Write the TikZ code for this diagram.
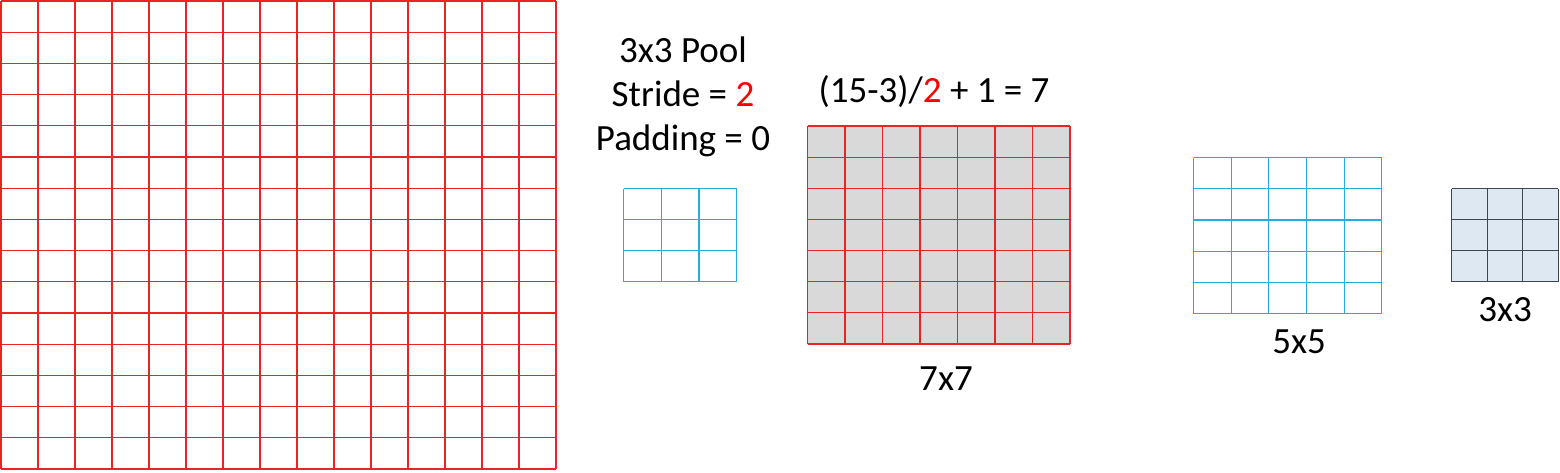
\documentclass[tikz,border=0pt]{standalone}
\usepackage{fontspec}
\setmainfont{Carlito}
\usepackage{xcolor}
\usetikzlibrary{positioning}
\definecolor{gridred}{RGB}{232,36,36}
\definecolor{poolblue}{RGB}{38,172,222}
\definecolor{cellgray}{RGB}{217,217,217}
\definecolor{outfill}{RGB}{221,232,243}
\definecolor{outedge}{RGB}{62,70,80}

% grid of cells: style, left, top, cols, rows, cell width, cell height
\newcommand{\cellgrid}[7]{%
  \foreach \i in {0,...,#4}
    \draw[#1] (#2+\i*#6,#3) -- (#2+\i*#6,#3+#5*#7);
  \foreach \j in {0,...,#5}
    \draw[#1] (#2,#3+\j*#7) -- (#2+#4*#6,#3+\j*#7);}

\begin{document}
\begin{tikzpicture}[
  x=1pt, y=-1pt,
  font=\fontsize{37}{44}\selectfont,
  lbl/.style={anchor=base, inner sep=0pt},
  redline/.style={draw=gridred, line width=1.2pt},
  blueline/.style={draw=poolblue, line width=1.2pt},
  darkline/.style={draw=outedge, line width=1.2pt}]

  \useasboundingbox (0,0) rectangle (1560,472);

  % input 15x15
  \cellgrid{redline}{1}{1}{15}{15}{37.0}{31.2}

  % pooling window
  \cellgrid{blueline}{623.5}{188.5}{3}{3}{37.7}{31.1}
  \node[lbl] (pool) at (683,62) {3x3 Pool};
  \node[lbl] (stride) at (683,106) {Stride = \textcolor{red}{2}};
  \node[lbl] (padding) at (683,150) {Padding = 0};

  % 7x7 output
  \fill[cellgray] (807.5,126) rectangle (1070,344);
  \cellgrid{redline}{807.5}{126}{7}{7}{37.5}{31.14}
  \node[lbl] (formula) at (934,102) {(15-3)/\textcolor{red}{2} + 1 = 7};
  \node[lbl] (size7) at (946,390) {7x7};

  % 5x5
  \cellgrid{blueline}{1193.5}{157.5}{5}{5}{37.65}{31.2}
  \node[lbl] (size5) at (1299,353) {5x5};

  % 3x3
  \fill[outfill] (1451.5,188.5) rectangle (1558.3,281.7);
  \cellgrid{darkline}{1451.5}{188.5}{3}{3}{35.6}{31.07}
  \node[lbl] (size3) at (1505,321.5) {3x3};
\end{tikzpicture}
\end{document}
